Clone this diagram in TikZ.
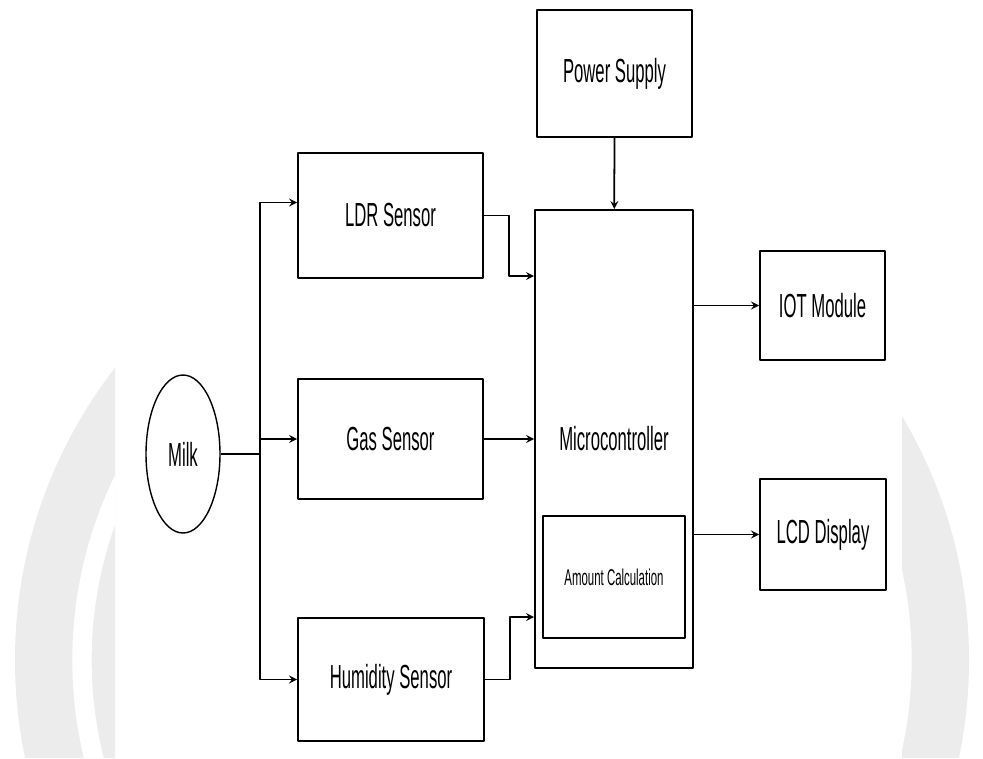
\documentclass[tikz,border=0pt]{standalone}
\usepackage{fontspec}
\setmainfont[FakeStretch=0.5]{Liberation Sans}
\usetikzlibrary{shapes.geometric,calc}
\begin{document}
\begin{tikzpicture}[x=0.02cm,y=-0.02cm,>=stealth,line join=round,
	blk/.style={draw,line width=1.1pt,inner sep=0pt,font=\fontsize{19}{22}\selectfont},
	con/.style={->,line width=1pt}]
	\useasboundingbox (0,0) rectangle (983,758);
	% faint watermark behind the page
	\begin{scope}
		\clip (0,0) rectangle (115,758) (902,0) rectangle (983,758);
		\fill[gray!15] (492,660) circle (477);
		\draw[white,line width=11pt] (492,660) circle (410);
	\end{scope}
	% blocks
	\node[blk,minimum width=3.1cm,minimum height=2.54cm] (power) at (614.5,73.5) {Power Supply};
	\node[blk,minimum width=3.7cm,minimum height=2.5cm] (ldr) at (390.5,215.5) {LDR Sensor};
	\node[blk,minimum width=3.7cm,minimum height=2.4cm] (gas) at (390.5,439) {Gas Sensor};
	\node[blk,minimum width=3.72cm,minimum height=2.46cm] (hum) at (391,679.5) {Humidity Sensor};
	\node[blk,minimum width=3.16cm,minimum height=9.16cm] (micro) at (614,439) {Microcontroller};
	\node[blk,minimum width=2.84cm,minimum height=2.44cm,font=\fontsize{13}{15}\selectfont] (calc) at (614,577) {Amount Calculation};
	\node[blk,minimum width=2.5cm,minimum height=2.18cm] (iot) at (822.5,305.5) {IOT Module};
	\node[blk,minimum width=2.52cm,minimum height=2.22cm] (lcd) at (823,534.5) {LCD Display};
	\node[blk,ellipse,line width=0.8pt,minimum width=1.48cm,minimum height=3.16cm] (milk) at (183,454) {Milk};
	\coordinate (split) at (260,454);
	% connectors
	\draw[line width=1pt] (milk.east) -- (split);
	\draw[con] (split) |- ($(ldr.west)+(0,-13)$);
	\draw[con] (split) |- (gas.west);
	\draw[con] (split) |- (hum.west);
	\draw[con] (ldr.east) -- ++(25,0) |- ($(micro.north west)+(0,67)$);
	\draw[con] (gas.east) -- (micro.west |- gas.east);
	\draw[con] (hum.east) -- ++(25,0) |- ($(micro.north west)+(0,408)$);
	\draw[con] (power) -- (micro);
	\draw[con] (micro.east |- iot.west) -- (iot.west);
	\draw[con] (micro.east |- lcd.west) -- (lcd.west);
\end{tikzpicture}
\end{document}
